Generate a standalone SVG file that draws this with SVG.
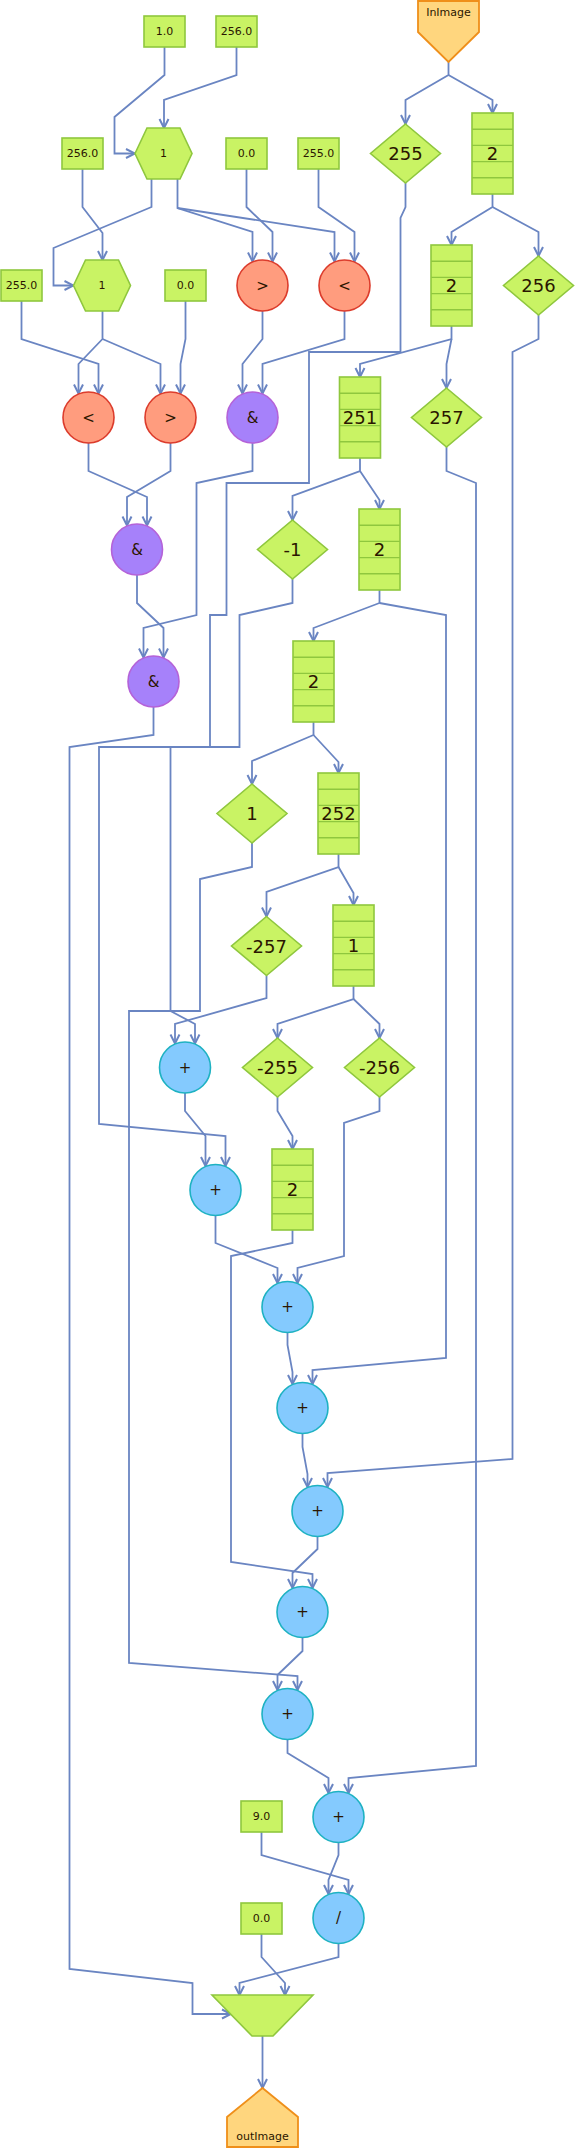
<svg xmlns="http://www.w3.org/2000/svg" width="575" height="2149" viewBox="0 0 575 2149">
<style>
.e{fill:none;stroke:#6a85c2;stroke-width:1.8;stroke-linejoin:miter}
.lime{fill:#c9f364;stroke:#8fc73e;stroke-width:1.6}
.ln{stroke:#8fc73e;stroke-width:1.4}
.io{fill:#ffd67e;stroke:#ef8f1a;stroke-width:1.8}
.cmp{fill:#ff9c7e;stroke:#dc3c2c;stroke-width:1.6}
.and{fill:#a681fa;stroke:#b462d8;stroke-width:1.6}
.add{fill:#84cafe;stroke:#1eb2c2;stroke-width:1.6}
text{font-family:"DejaVu Sans","Liberation Sans",sans-serif;fill:#2b1600;text-anchor:middle;dominant-baseline:central}
.s{font-size:11px}
.m{font-size:15px}
.b{font-size:18px}
</style>
<defs>
<marker id="ah" viewBox="0 0 12 12" refX="10.5" refY="6" markerWidth="12" markerHeight="12" markerUnits="userSpaceOnUse" orient="auto">
<path d="M1.5,1.5 L10.5,6 L1.5,10.5" fill="none" stroke="#6a85c2" stroke-width="2"/>
</marker>
</defs>
<g id="connectors" marker-end="url(#ah)">
<path class="e" marker-end="url(#ah)" d="M164.5,47 V75 L114.5,117 V153.5 H135"/>
<path class="e" marker-end="url(#ah)" d="M236.5,47 V75 L164,100 V128"/>
<path class="e" marker-end="url(#ah)" d="M448.5,62 V75 L405.5,100 V124"/>
<path class="e" marker-end="url(#ah)" d="M448.5,75 L492.5,100 V113"/>
<path class="e" marker-end="url(#ah)" d="M151.5,179 V207 L53.5,248 V285.5 H73.5"/>
<path class="e" marker-end="url(#ah)" d="M82.5,169 V207 L102.5,233 V260"/>
<path class="e" marker-end="url(#ah)" d="M177.5,179 V208 L252.5,232 V261.5"/>
<path class="e" marker-end="url(#ah)" d="M177.5,208 L334.5,232 V261.5"/>
<path class="e" marker-end="url(#ah)" d="M246.5,169 V207 L272.5,232 V261.5"/>
<path class="e" marker-end="url(#ah)" d="M318.5,169 V207 L354.5,232 V261.5"/>
<path class="e" marker-end="url(#ah)" d="M492.5,194 V207 L451.5,232 V245"/>
<path class="e" marker-end="url(#ah)" d="M492.5,207 L538.5,232 V256"/>
<path class="e" marker-end="url(#ah)" d="M405.5,183 V207 L400.5,218 V352 H309 V483 H226.5 V615 H210 V747 H99 V1124 L225.5,1136 V1166"/>
<path class="e" marker-end="url(#ah)" d="M102.5,311 V339 L78.5,364 V393.5"/>
<path class="e" marker-end="url(#ah)" d="M102.5,339 L160.5,364 V393.5"/>
<path class="e" marker-end="url(#ah)" d="M21.5,301 V339 L98.5,364 V393.5"/>
<path class="e" marker-end="url(#ah)" d="M185.5,301 V339 L180.5,364 V393.5"/>
<path class="e" marker-end="url(#ah)" d="M262.5,311 V339 L242.5,364 V393.5"/>
<path class="e" marker-end="url(#ah)" d="M344.5,311 V339 L262.5,364 V393.5"/>
<path class="e" marker-end="url(#ah)" d="M451.5,326 V339 L360,364 V377"/>
<path class="e" marker-end="url(#ah)" d="M451.5,339 L446.5,364 V388"/>
<path class="e" marker-end="url(#ah)" d="M538.5,315 V339 L512.5,352 V1459 L327.5,1473 V1487"/>
<path class="e" marker-end="url(#ah)" d="M88.5,443 V471 L147,497 V525.5"/>
<path class="e" marker-end="url(#ah)" d="M170.5,443 V471 L127,497 V525.5"/>
<path class="e" marker-end="url(#ah)" d="M252.5,443 V471 L196.5,483 V615 L143.5,628 V657.5"/>
<path class="e" marker-end="url(#ah)" d="M360,458 V471 L292.5,496 V520"/>
<path class="e" marker-end="url(#ah)" d="M360,471 L379.5,500 V509"/>
<path class="e" marker-end="url(#ah)" d="M446.5,447 V471 L476,483 V1766 L348.5,1778 V1793"/>
<path class="e" marker-end="url(#ah)" d="M137,575 V603 L163.5,628 V657.5"/>
<path class="e" marker-end="url(#ah)" d="M292.5,579 V603 L239.5,615 V747 H170.5 V1011 L195,1024 V1043.5"/>
<path class="e" marker-end="url(#ah)" d="M379.5,590 V603 L313.5,628 V641"/>
<path class="e" marker-end="url(#ah)" d="M379.5,603 L446,615 V1358 L312.5,1370 V1384"/>
<path class="e" marker-end="url(#ah)" d="M153.5,707 V735 L69.5,747 V1969 L192.5,1983 V2014 H231"/>
<path class="e" marker-end="url(#ah)" d="M313.5,722 V735 L252,761 V784"/>
<path class="e" marker-end="url(#ah)" d="M313.5,735 L338.5,762 V773"/>
<path class="e" marker-end="url(#ah)" d="M252,843 V867 L200,879 V1011 H129 V1663 L297.5,1676 V1690"/>
<path class="e" marker-end="url(#ah)" d="M338.5,854 V867 L266.5,892 V916.5"/>
<path class="e" marker-end="url(#ah)" d="M338.5,867 L353.5,893 V905"/>
<path class="e" marker-end="url(#ah)" d="M266.5,975.5 V998 L175,1024 V1043.5"/>
<path class="e" marker-end="url(#ah)" d="M353.5,986 V999 L277.5,1024 V1038"/>
<path class="e" marker-end="url(#ah)" d="M353.5,999 L379.5,1024 V1038"/>
<path class="e" marker-end="url(#ah)" d="M185,1093 V1111 L205.5,1136 V1166"/>
<path class="e" marker-end="url(#ah)" d="M277.5,1097 V1111 L292.5,1136 V1149"/>
<path class="e" marker-end="url(#ah)" d="M379.5,1097 V1111 L344,1123 V1256 L297.5,1268 V1283"/>
<path class="e" marker-end="url(#ah)" d="M215.5,1215 V1243 L277.5,1268 V1283"/>
<path class="e" marker-end="url(#ah)" d="M292.5,1230 V1243 L231,1256 V1562 L312.5,1574 V1588"/>
<path class="e" marker-end="url(#ah)" d="M287.5,1332 V1345 L292.5,1372 V1384"/>
<path class="e" marker-end="url(#ah)" d="M302.5,1433 V1447 L307.5,1474 V1487"/>
<path class="e" marker-end="url(#ah)" d="M317.5,1536 V1549 L292.5,1573 V1588"/>
<path class="e" marker-end="url(#ah)" d="M302.5,1637 V1651 L277.5,1675 V1690"/>
<path class="e" marker-end="url(#ah)" d="M287.5,1739 V1753 L328.5,1778 V1793"/>
<path class="e" marker-end="url(#ah)" d="M338.5,1842 V1855 L328.5,1880 V1894"/>
<path class="e" marker-end="url(#ah)" d="M261.5,1832 V1855 L348.5,1880 V1894"/>
<path class="e" marker-end="url(#ah)" d="M338.5,1943 V1957 L239.5,1983 V1995"/>
<path class="e" marker-end="url(#ah)" d="M261.5,1934 V1957 L285,1983 V1995"/>
<path class="e" marker-end="url(#ah)" d="M262.5,2036 V2088"/>
</g>
<g id="inImage"><polygon class="io" points="418,1 479,1 479,32 448.5,62 418,32"/><text class="s" x="448.5" y="12">InImage</text></g>
<g id="c1"><rect class="lime" x="144" y="16" width="41" height="31"/><text class="s" x="164.5" y="31.5">1.0</text></g>
<g id="c2"><rect class="lime" x="216" y="16" width="41" height="31"/><text class="s" x="236.5" y="31.5">256.0</text></g>
<g id="c3"><rect class="lime" x="62" y="138" width="41" height="31"/><text class="s" x="82.5" y="153.5">256.0</text></g>
<g id="c4"><rect class="lime" x="226" y="138" width="41" height="31"/><text class="s" x="246.5" y="153.5">0.0</text></g>
<g id="c5"><rect class="lime" x="298" y="138" width="41" height="31"/><text class="s" x="318.5" y="153.5">255.0</text></g>
<g id="c6"><rect class="lime" x="1" y="270" width="41" height="31"/><text class="s" x="21.5" y="285.5">255.0</text></g>
<g id="c7"><rect class="lime" x="165" y="270" width="41" height="31"/><text class="s" x="185.5" y="285.5">0.0</text></g>
<g id="c8"><rect class="lime" x="241" y="1801" width="41" height="31"/><text class="s" x="261.5" y="1816.5">9.0</text></g>
<g id="c9"><rect class="lime" x="241" y="1903" width="41" height="31"/><text class="s" x="261.5" y="1918.5">0.0</text></g>
<g id="hex1"><polygon class="lime" points="135,153.5 147,128 180,128 192,153.5 180,179 147,179"/><text class="s" x="163.5" y="153.5">1</text></g>
<g id="hex2"><polygon class="lime" points="73.5,285.5 85.5,260 118.5,260 130.5,285.5 118.5,311 85.5,311"/><text class="s" x="102" y="285.5">1</text></g>
<g id="d255"><polygon class="lime" points="405.5,124 440.5,153.5 405.5,183 370.5,153.5"/><text class="b" x="405.5" y="153.5">255</text></g>
<g id="d256"><polygon class="lime" points="538.5,256 573.5,285.5 538.5,315 503.5,285.5"/><text class="b" x="538.5" y="285.5">256</text></g>
<g id="d257"><polygon class="lime" points="446.5,388 481.5,417.5 446.5,447 411.5,417.5"/><text class="b" x="446.5" y="417.5">257</text></g>
<g id="dm1"><polygon class="lime" points="292.5,520 327.5,549.5 292.5,579 257.5,549.5"/><text class="b" x="292.5" y="549.5">-1</text></g>
<g id="d1"><polygon class="lime" points="252,784 287,813.5 252,843 217,813.5"/><text class="b" x="252" y="813.5">1</text></g>
<g id="dm257"><polygon class="lime" points="266.5,916.5 301.5,946 266.5,975.5 231.5,946"/><text class="b" x="266.5" y="946">-257</text></g>
<g id="dm255"><polygon class="lime" points="277.5,1038 312.5,1067.5 277.5,1097 242.5,1067.5"/><text class="b" x="277.5" y="1067.5">-255</text></g>
<g id="dm256"><polygon class="lime" points="379.5,1038 414.5,1067.5 379.5,1097 344.5,1067.5"/><text class="b" x="379.5" y="1067.5">-256</text></g>
<g id="stackA"><rect class="lime" x="472" y="113" width="41" height="81"/><path class="ln" d="M472,129.2H513M472,145.4H513M472,161.6H513M472,177.8H513"/><text class="b" x="492.5" y="153.5">2</text></g>
<g id="stackB"><rect class="lime" x="431" y="245" width="41" height="81"/><path class="ln" d="M431,261.2H472M431,277.4H472M431,293.6H472M431,309.8H472"/><text class="b" x="451.5" y="285.5">2</text></g>
<g id="stackC"><rect class="lime" x="339.5" y="377" width="41" height="81"/><path class="ln" d="M339.5,393.2H380.5M339.5,409.4H380.5M339.5,425.6H380.5M339.5,441.8H380.5"/><text class="b" x="360" y="417.5">251</text></g>
<g id="stackD"><rect class="lime" x="359" y="509" width="41" height="81"/><path class="ln" d="M359,525.2H400M359,541.4H400M359,557.6H400M359,573.8H400"/><text class="b" x="379.5" y="549.5">2</text></g>
<g id="stackE"><rect class="lime" x="293" y="641" width="41" height="81"/><path class="ln" d="M293,657.2H334M293,673.4H334M293,689.6H334M293,705.8H334"/><text class="b" x="313.5" y="681.5">2</text></g>
<g id="stackF"><rect class="lime" x="318" y="773" width="41" height="81"/><path class="ln" d="M318,789.2H359M318,805.4H359M318,821.6H359M318,837.8H359"/><text class="b" x="338.5" y="813.5">252</text></g>
<g id="stackG"><rect class="lime" x="333" y="905" width="41" height="81"/><path class="ln" d="M333,921.2H374M333,937.4H374M333,953.6H374M333,969.8H374"/><text class="b" x="353.5" y="945.5">1</text></g>
<g id="stackH"><rect class="lime" x="272" y="1149" width="41" height="81"/><path class="ln" d="M272,1165.2H313M272,1181.4H313M272,1197.6H313M272,1213.8H313"/><text class="b" x="292.5" y="1189.5">2</text></g>
<g id="gt1"><circle class="cmp" cx="262.5" cy="285.5" r="25.5"/><text class="m" x="262.5" y="285.5">&gt;</text></g>
<g id="lt1"><circle class="cmp" cx="344.5" cy="285.5" r="25.5"/><text class="m" x="344.5" y="285.5">&lt;</text></g>
<g id="lt2"><circle class="cmp" cx="88.5" cy="417.5" r="25.5"/><text class="m" x="88.5" y="417.5">&lt;</text></g>
<g id="gt2"><circle class="cmp" cx="170.5" cy="417.5" r="25.5"/><text class="m" x="170.5" y="417.5">&gt;</text></g>
<g id="and1"><circle class="and" cx="252.5" cy="417.5" r="25.5"/><text class="m" x="252.5" y="417.5">&amp;</text></g>
<g id="and2"><circle class="and" cx="137" cy="549.5" r="25.5"/><text class="m" x="137" y="549.5">&amp;</text></g>
<g id="and3"><circle class="and" cx="153.5" cy="681.5" r="25.5"/><text class="m" x="153.5" y="681.5">&amp;</text></g>
<g id="add1"><circle class="add" cx="185" cy="1067.5" r="25.5"/><text class="m" x="185" y="1067.5">+</text></g>
<g id="add2"><circle class="add" cx="215.5" cy="1190" r="25.5"/><text class="m" x="215.5" y="1190">+</text></g>
<g id="add3"><circle class="add" cx="287.5" cy="1307" r="25.5"/><text class="m" x="287.5" y="1307">+</text></g>
<g id="add4"><circle class="add" cx="302.5" cy="1408" r="25.5"/><text class="m" x="302.5" y="1408">+</text></g>
<g id="add5"><circle class="add" cx="317.5" cy="1511" r="25.5"/><text class="m" x="317.5" y="1511">+</text></g>
<g id="add6"><circle class="add" cx="302.5" cy="1612" r="25.5"/><text class="m" x="302.5" y="1612">+</text></g>
<g id="add7"><circle class="add" cx="287.5" cy="1714" r="25.5"/><text class="m" x="287.5" y="1714">+</text></g>
<g id="add8"><circle class="add" cx="338.5" cy="1817" r="25.5"/><text class="m" x="338.5" y="1817">+</text></g>
<g id="div"><circle class="add" cx="338.5" cy="1918" r="25.5"/><text class="m" x="338.5" y="1918">/</text></g>
<g id="mux"><polygon class="lime" points="212,1995 313,1995 273,2036 252,2036"/></g>
<g id="outImage"><polygon class="io" points="262.5,2088 298,2117 298,2147 227,2147 227,2117"/><text class="s" x="262.5" y="2136">outImage</text></g>
</svg>
